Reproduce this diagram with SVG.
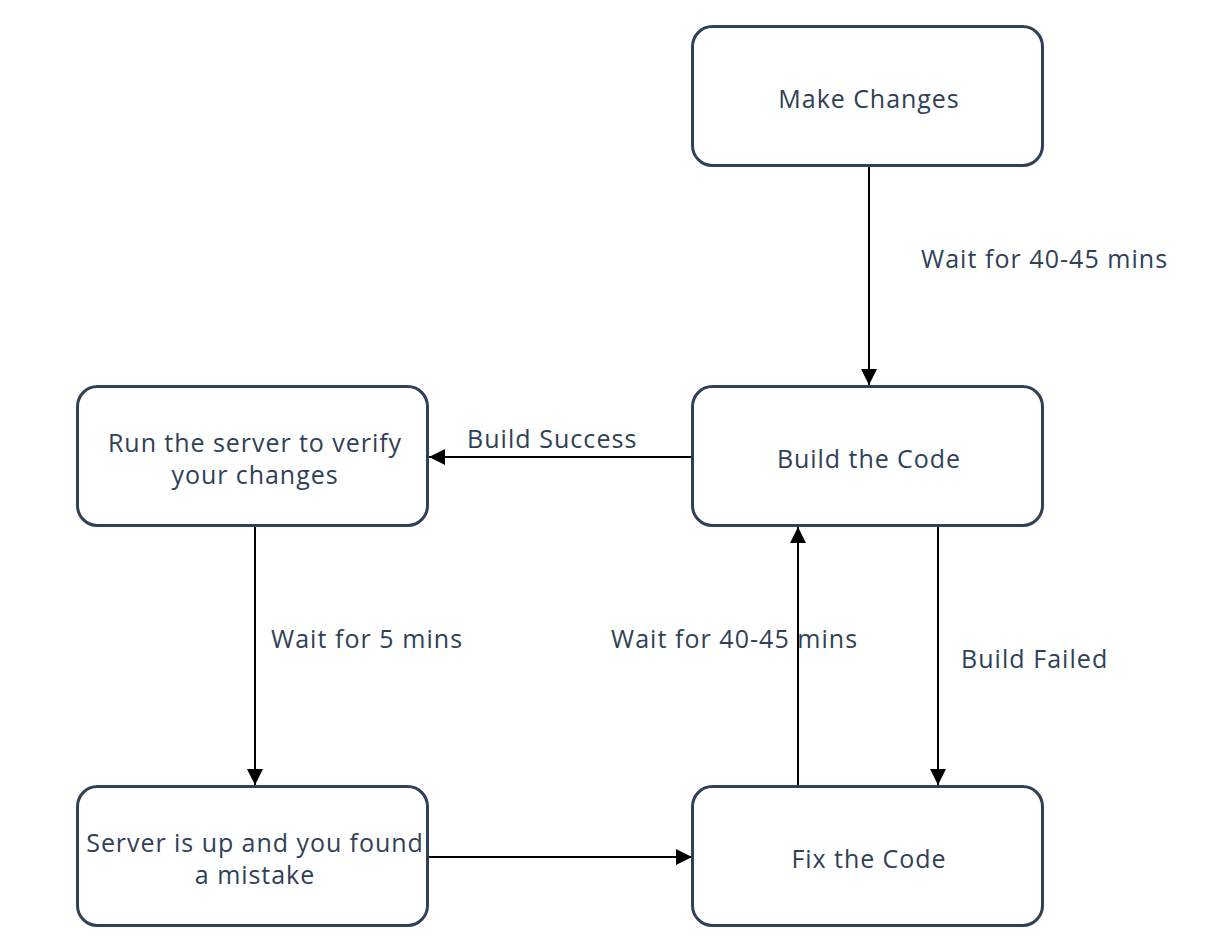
<svg xmlns="http://www.w3.org/2000/svg" width="1206" height="951" viewBox="0 0 1206 951">
<style>
.box{fill:#fff;stroke:#2f4157;stroke-width:3}
.t{font-family:"Open Sans","Noto Sans",sans-serif;font-size:25px;letter-spacing:0.95px;fill:#2f4157;text-anchor:middle}
.l{font-family:"Open Sans","Noto Sans",sans-serif;font-size:25px;letter-spacing:1.05px;fill:#2f4157}
.c{stroke:#000;stroke-width:2;fill:none;marker-end:url(#ah)}
</style>
<defs>
<marker id="ah" viewBox="0 0 16 16" refX="16" refY="8" markerWidth="16" markerHeight="16" markerUnits="userSpaceOnUse" orient="auto">
<path d="M0,0 L16,8 L0,16 Z" fill="#000"/>
</marker>
</defs>
<rect width="1206" height="951" fill="#fff"/>
<g id="connectors">
<line class="c" x1="869" y1="167" x2="869" y2="385"/>
<line class="c" x1="692" y1="457" x2="429" y2="457"/>
<line class="c" x1="255" y1="527" x2="255" y2="785"/>
<line class="c" x1="429" y1="857" x2="692" y2="857"/>
<line class="c" x1="798" y1="785" x2="798" y2="527"/>
<line class="c" x1="938" y1="527" x2="938" y2="785"/>
<text class="l" x="921" y="268">Wait for 40-45 mins</text>
<text class="l" x="467" y="448">Build Success</text>
<text class="l" x="271" y="648">Wait for 5 mins</text>
<text class="l" x="611" y="648">Wait for 40-45 mins</text>
<text class="l" x="961" y="668">Build Failed</text>
</g>
<g id="make-changes">
<rect class="box" x="692.5" y="26.5" width="350" height="139" rx="20"/>
<text class="t" x="869" y="108">Make Changes</text>
</g>
<g id="build-code">
<rect class="box" x="692.5" y="386.5" width="350" height="139" rx="20"/>
<text class="t" x="869" y="468">Build the Code</text>
</g>
<g id="run-server">
<rect class="box" x="77.5" y="386.5" width="350" height="139" rx="20"/>
<text class="t" x="255" y="452">Run the server to verify</text>
<text class="t" x="255" y="484">your changes</text>
</g>
<g id="server-up">
<rect class="box" x="77.5" y="786.5" width="350" height="139" rx="20"/>
<text class="t" x="255" y="852">Server is up and you found</text>
<text class="t" x="255" y="884">a mistake</text>
</g>
<g id="fix-code">
<rect class="box" x="692.5" y="786.5" width="350" height="139" rx="20"/>
<text class="t" x="869" y="868">Fix the Code</text>
</g>
</svg>
